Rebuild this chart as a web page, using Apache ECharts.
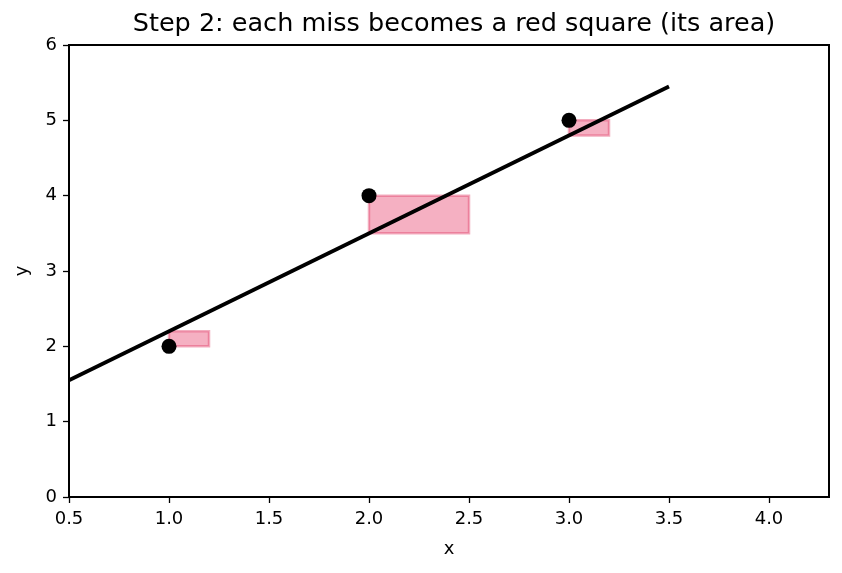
<!DOCTYPE html>
<html>
<head>
<meta charset="utf-8">
<script src="https://cdn.jsdelivr.net/npm/echarts@6/dist/echarts.min.js"></script>
<style>
  html, body { margin: 0; padding: 0; background: #fff; }
  #chart { width: 842px; height: 573px; }
</style>
</head>
<body>
<div id="chart"></div>
<script>
// data points
const pointsX = [1, 2, 3];
const pointsY = [2, 4, 5];

// fitted line endpoints
const lineX = [0.5, 3.5];
const lineY = [1.55, 5.45];

// squares for each miss (x0, x1, y0, y1)
const rectX0 = [1, 2, 3];
const rectX1 = [1.2, 2.5, 3.2];
const rectY0 = [2, 3.5, 4.8];
const rectY1 = [2.2, 4, 5];

const xTicks = [0.5, 1.0, 1.5, 2.0, 2.5, 3.0, 3.5, 4.0];
const yTicks = [0, 1, 2, 3, 4, 5, 6];

const chart = echarts.init(document.getElementById('chart'));
const font = 'DejaVu Sans';

const rectData = rectX0.map((x0, i) => [x0, rectY0[i], rectX1[i], rectY1[i]]);

chart.setOption({
  animation: false,
  title: {
    text: 'Step 2: each miss becomes a red square (its area)',
    left: 449,
    textAlign: 'center',
    top: 6,
    textStyle: { fontFamily: font, fontSize: 25.5, fontWeight: 'normal', color: '#000' },
  },
  grid: {
    left: 69,
    right: 13,
    top: 45,
    bottom: 76,
    show: true,
    borderColor: '#000',
    borderWidth: 2,
    backgroundColor: 'transparent',
  },
  xAxis: {
    type: 'value',
    min: 0.5,
    max: 4.3,
    name: 'x',
    nameLocation: 'middle',
    nameGap: 43,
    nameTextStyle: { fontFamily: font, fontSize: 18, color: '#000' },
    splitLine: { show: false },
    axisLine: { show: true, lineStyle: { color: '#000', width: 2 } },
    axisTick: { show: true, length: 6, lineStyle: { color: '#000', width: 1.3 }, customValues: xTicks },
    axisLabel: {
      fontFamily: font, fontSize: 18, color: '#000', margin: 13,
      customValues: xTicks,
      formatter: (v) => v.toFixed(1),
    },
  },
  yAxis: {
    type: 'value',
    min: 0,
    max: 6,
    interval: 1,
    name: 'y',
    nameLocation: 'middle',
    nameGap: 38,
    nameTextStyle: { fontFamily: font, fontSize: 18, color: '#000' },
    splitLine: { show: false },
    axisLine: { show: true, lineStyle: { color: '#000', width: 2 } },
    axisTick: { show: true, length: 6, lineStyle: { color: '#000', width: 1.3 }, customValues: yTicks },
    axisLabel: { fontFamily: font, fontSize: 18, color: '#000', margin: 12, customValues: yTicks },
  },
  series: [
    {
      type: 'custom',
      z: 1,
      data: rectData,
      renderItem: (params, api) => {
        const p0 = api.coord([api.value(0), api.value(1)]);
        const p1 = api.coord([api.value(2), api.value(3)]);
        return {
          type: 'rect',
          shape: {
            x: Math.min(p0[0], p1[0]),
            y: Math.min(p0[1], p1[1]),
            width: Math.abs(p1[0] - p0[0]),
            height: Math.abs(p1[1] - p0[1]),
          },
          style: {
            fill: 'rgba(232, 80, 120, 0.45)',
            stroke: 'rgba(226, 70, 110, 0.45)',
            lineWidth: 2.5,
          },
        };
      },
    },
    {
      type: 'line',
      z: 2,
      data: lineX.map((x, i) => [x, lineY[i]]),
      showSymbol: false,
      lineStyle: { color: '#000', width: 3.8 },
    },
    {
      type: 'scatter',
      z: 3,
      data: pointsX.map((x, i) => [x, pointsY[i]]),
      symbolSize: 15,
      itemStyle: { color: '#000', opacity: 1 },
    },
  ],
});
</script>
</body>
</html>
